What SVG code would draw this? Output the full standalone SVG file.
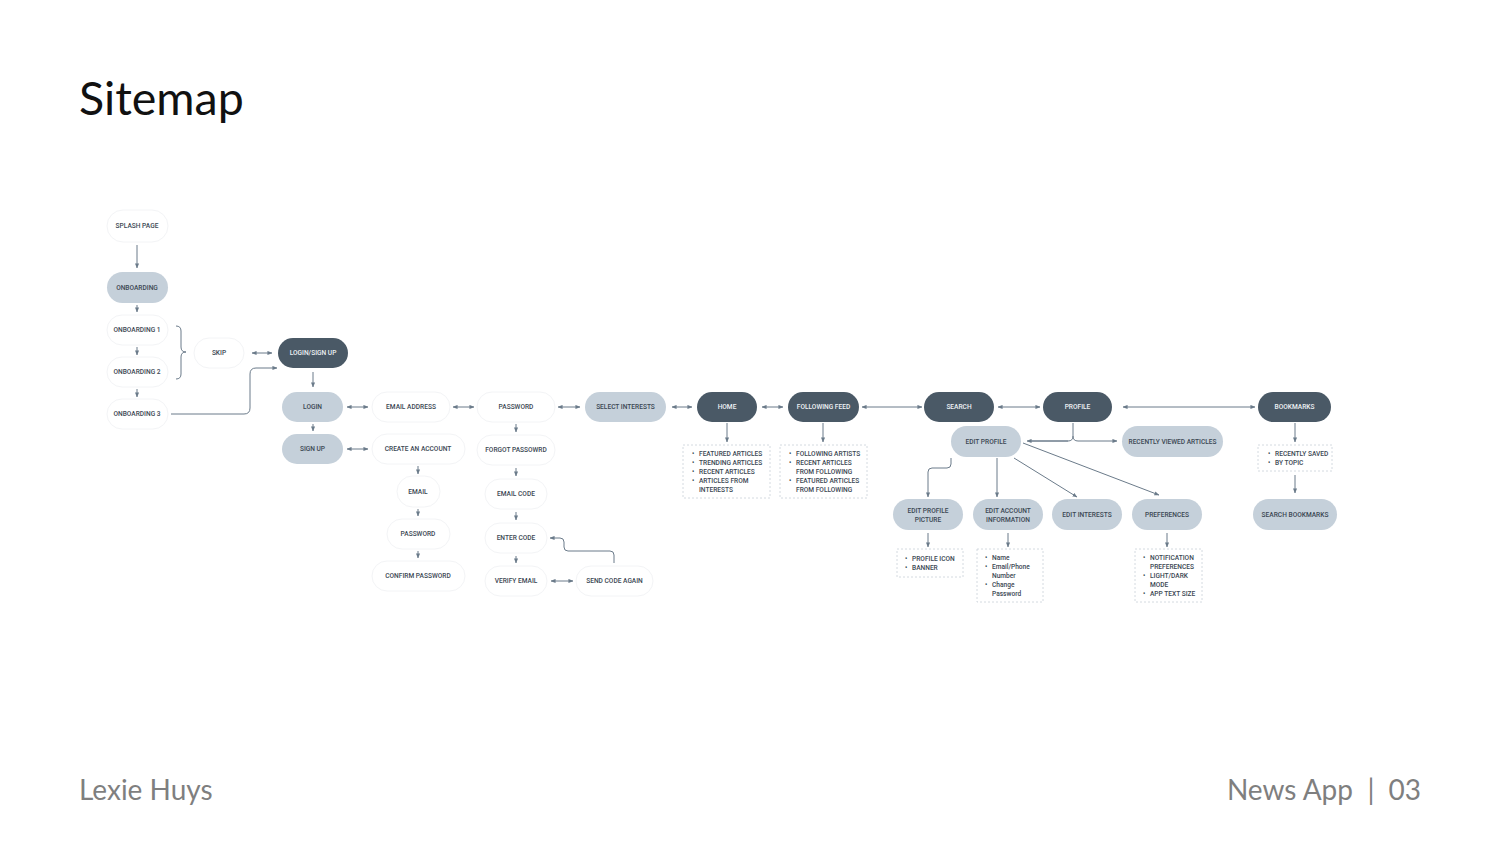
<svg xmlns="http://www.w3.org/2000/svg" width="1500" height="844" viewBox="0 0 1500 844">
<defs>
<marker id="ah" viewBox="0 0 6 6" refX="5.5" refY="3" markerWidth="5" markerHeight="5" orient="auto-start-reverse" markerUnits="userSpaceOnUse">
<path d="M0,0.5 L6,3 L0,5.5 Z" fill="#6b7b8a"/>
</marker>
</defs>
<style>
.w{fill:#ffffff;stroke:#f3f4f6;stroke-width:1}
.l{fill:#c5d0da;stroke:none}
.d{fill:#4a5966;stroke:none}
.t{font-family:Roboto,"Liberation Sans",sans-serif;font-size:6.6px;font-weight:500;fill:#3b4753;text-anchor:middle;dominant-baseline:central}
.td{fill:#eef2f5}
.c{fill:none;stroke:#6b7b8a;stroke-width:1}
.a{marker-end:url(#ah)}
.b{marker-start:url(#ah);marker-end:url(#ah)}
.box{fill:none;stroke:#c9d1d8;stroke-width:0.8;stroke-dasharray:2,2}
.li{font-family:Roboto,"Liberation Sans",sans-serif;font-size:6.6px;font-weight:500;fill:#3b4753}
.title{font-family:Lato,"Liberation Sans",sans-serif;font-size:46.5px;fill:#111111}
.foot{font-family:Lato,"Liberation Sans",sans-serif;font-size:28px;fill:#7f7f7f}
</style>
<rect width="1500" height="844" fill="#ffffff"/>
<text class="title" x="79" y="115">Sitemap</text>
<text class="foot" x="79" y="800">Lexie Huys</text>
<text class="foot" x="1353" y="800" text-anchor="end">News App</text>
<text class="foot" x="1371" y="800" text-anchor="middle">|</text>
<text class="foot" x="1421" y="800" text-anchor="end">03</text>

<g id="connectors">
<line class="c a" x1="137" y1="245" x2="137" y2="268" stroke-width="1.3"/>
<line class="c a" x1="137" y1="305" x2="137" y2="312"/>
<line class="c a" x1="137" y1="347" x2="137" y2="355"/>
<line class="c a" x1="137" y1="389" x2="137" y2="397"/>
<path class="c" d="M176,326 Q181,326 181,331 V347 Q181,352 186,352 Q181,352 181,357 V374 Q181,379 176,379"/>
<line class="c b" x1="252" y1="353" x2="272" y2="353"/>
<path class="c a" d="M171,414 H244 Q250,414 250,408 V374 Q250,368 256,368 H277" stroke-width="1.2"/>
<line class="c a" x1="313" y1="372" x2="313" y2="387"/>
<line class="c a" x1="313" y1="424" x2="313" y2="431"/>
<line class="c b" x1="347" y1="407" x2="368" y2="407"/>
<line class="c b" x1="347" y1="449" x2="368" y2="449"/>
<line class="c b" x1="453" y1="407" x2="474" y2="407"/>
<line class="c a" x1="418" y1="466" x2="418" y2="474"/>
<line class="c a" x1="418" y1="509" x2="418" y2="516"/>
<line class="c a" x1="418" y1="551" x2="418" y2="558"/>
<line class="c a" x1="516" y1="424" x2="516" y2="432"/>
<line class="c a" x1="516" y1="468" x2="516" y2="476"/>
<line class="c a" x1="516" y1="512" x2="516" y2="520"/>
<line class="c a" x1="516" y1="556" x2="516" y2="563"/>
<line class="c b" x1="551" y1="581" x2="573" y2="581"/>
<path class="c a" d="M614,563 V555 Q614,551 610,551 H568 Q564,551 564,547 V542 Q564,538 560,538 H550" stroke-width="1.2"/>
<line class="c b" x1="558" y1="407" x2="580" y2="407"/>
<line class="c b" x1="672" y1="407" x2="692" y2="407"/>
<line class="c b" x1="762" y1="407" x2="783" y2="407"/>
<line class="c b" x1="862" y1="407" x2="922" y2="407"/>
<line class="c b" x1="998" y1="407" x2="1040" y2="407"/>
<line class="c b" x1="1123" y1="407" x2="1255" y2="407"/>
<line class="c a" x1="727" y1="423" x2="727" y2="442"/>
<line class="c a" x1="823" y1="423" x2="823" y2="442"/>
<path class="c" d="M1073,423 V436 Q1073,441 1068,441 H1030"/>
<line class="c a" x1="1068" y1="441" x2="1027" y2="441"/>
<path class="c a" d="M1073,436 Q1073,441 1078,441 H1117"/>
<path class="c a" d="M951,458 V464 Q951,468 947,468 H932 Q928,468 928,472 V497" stroke-width="1.2"/>
<line class="c a" x1="997" y1="458" x2="997" y2="497" stroke-width="1.2"/>
<line class="c a" x1="1014" y1="458" x2="1077" y2="497" stroke-width="1.2"/>
<line class="c a" x1="1023" y1="443" x2="1159" y2="495" stroke-width="1.2"/>
<line class="c a" x1="928" y1="533" x2="928" y2="547" stroke-width="1.2"/>
<line class="c a" x1="1008" y1="533" x2="1008" y2="547" stroke-width="1.2"/>
<line class="c a" x1="1167" y1="533" x2="1167" y2="547" stroke-width="1.2"/>
<line class="c a" x1="1295" y1="423" x2="1295" y2="442" stroke-width="1.2"/>
<line class="c a" x1="1295" y1="475" x2="1295" y2="493" stroke-width="1.2"/>
</g>

<g id="splash"><rect class="w" x="107" y="210" width="61" height="32" rx="16"/><text class="t" x="137" y="226">SPLASH PAGE</text></g>
<g id="onboarding"><rect class="l" x="107" y="272" width="61" height="31" rx="15.5"/><text class="t" x="137" y="287.5">ONBOARDING</text></g>
<g id="onb1"><rect class="w" x="107" y="315" width="61" height="30" rx="15"/><text class="t" x="137" y="330">ONBOARDING 1</text></g>
<g id="onb2"><rect class="w" x="107" y="357" width="61" height="30" rx="15"/><text class="t" x="137" y="372">ONBOARDING 2</text></g>
<g id="onb3"><rect class="w" x="107" y="399" width="61" height="30" rx="15"/><text class="t" x="137" y="414">ONBOARDING 3</text></g>
<g id="skip"><rect class="w" x="194" y="338" width="50" height="30" rx="15"/><text class="t" x="219" y="353">SKIP</text></g>
<g id="loginsignup"><rect class="d" x="278" y="338" width="70" height="30" rx="15"/><text class="t td" x="313" y="353">LOGIN/SIGN UP</text></g>
<g id="login"><rect class="l" x="282" y="392" width="61" height="30" rx="15"/><text class="t" x="312.5" y="407">LOGIN</text></g>
<g id="signup"><rect class="l" x="282" y="434" width="61" height="30" rx="15"/><text class="t" x="312.5" y="449">SIGN UP</text></g>
<g id="emailaddress"><rect class="w" x="372" y="392" width="78" height="30" rx="15"/><text class="t" x="411" y="407">EMAIL ADDRESS</text></g>
<g id="createaccount"><rect class="w" x="372" y="434" width="93" height="30" rx="15"/><text class="t" x="418" y="449">CREATE AN ACCOUNT</text></g>
<g id="email"><rect class="w" x="397" y="476" width="43" height="31" rx="15.5"/><text class="t" x="418" y="491.5">EMAIL</text></g>
<g id="password2"><rect class="w" x="387" y="519" width="63" height="30" rx="15"/><text class="t" x="418" y="534">PASSWORD</text></g>
<g id="confirmpassword"><rect class="w" x="372" y="561" width="93" height="30" rx="15"/><text class="t" x="418" y="576">CONFIRM PASSWORD</text></g>
<g id="password"><rect class="w" x="477" y="392" width="78" height="30" rx="15"/><text class="t" x="516" y="407">PASSWORD</text></g>
<g id="forgot"><rect class="w" x="477" y="435" width="78" height="30" rx="15"/><text class="t" x="516" y="450">FORGOT PASSOWRD</text></g>
<g id="emailcode"><rect class="w" x="485" y="479" width="62" height="30" rx="15"/><text class="t" x="516" y="494">EMAIL CODE</text></g>
<g id="entercode"><rect class="w" x="485" y="523" width="62" height="30" rx="15"/><text class="t" x="516" y="538">ENTER CODE</text></g>
<g id="verifyemail"><rect class="w" x="485" y="566" width="62" height="30" rx="15"/><text class="t" x="516" y="581">VERIFY EMAIL</text></g>
<g id="sendcode"><rect class="w" x="576" y="566" width="77" height="30" rx="15"/><text class="t" x="614.5" y="581">SEND CODE AGAIN</text></g>
<g id="selectinterests"><rect class="l" x="585" y="392" width="81" height="30" rx="15"/><text class="t" x="625.5" y="407">SELECT INTERESTS</text></g>
<g id="home"><rect class="d" x="697" y="392" width="60" height="30" rx="15"/><text class="t td" x="727" y="407">HOME</text></g>
<g id="followingfeed"><rect class="d" x="788" y="392" width="71" height="30" rx="15"/><text class="t td" x="823.5" y="407">FOLLOWING FEED</text></g>
<g id="search"><rect class="d" x="924" y="392" width="70" height="30" rx="15"/><text class="t td" x="959" y="407">SEARCH</text></g>
<g id="profile"><rect class="d" x="1043" y="392" width="69" height="30" rx="15"/><text class="t td" x="1077.5" y="407">PROFILE</text></g>
<g id="bookmarks"><rect class="d" x="1258" y="392" width="73" height="30" rx="15"/><text class="t td" x="1294.5" y="407">BOOKMARKS</text></g>
<g id="editprofile"><rect class="l" x="951" y="426" width="70" height="31" rx="15.5"/><text class="t" x="986" y="441.5">EDIT PROFILE</text></g>
<g id="recentlyviewed"><rect class="l" x="1122" y="426" width="101" height="31" rx="15.5"/><text class="t" x="1172.5" y="441.5">RECENTLY VIEWED ARTICLES</text></g>
<g id="editpicture"><rect class="l" x="893" y="499" width="70" height="31" rx="15.5"/><text class="t" x="928" y="510.5">EDIT PROFILE</text><text class="t" x="928" y="519.5">PICTURE</text></g>
<g id="editaccount"><rect class="l" x="973" y="499" width="70" height="31" rx="15.5"/><text class="t" x="1008" y="510.5">EDIT ACCOUNT</text><text class="t" x="1008" y="519.5">INFORMATION</text></g>
<g id="editinterests"><rect class="l" x="1052" y="499" width="70" height="31" rx="15.5"/><text class="t" x="1087" y="514.5">EDIT INTERESTS</text></g>
<g id="preferences"><rect class="l" x="1132" y="499" width="70" height="31" rx="15.5"/><text class="t" x="1167" y="514.5">PREFERENCES</text></g>
<g id="searchbookmarks"><rect class="l" x="1253" y="499" width="84" height="31" rx="15.5"/><text class="t" x="1295" y="514.5">SEARCH BOOKMARKS</text></g>

<g id="homelist"><rect class="box" x="683" y="445" width="87" height="53"/>
<text class="li"><tspan x="692" y="456">•</tspan><tspan x="699" y="456">FEATURED ARTICLES</tspan><tspan x="692" y="465">•</tspan><tspan x="699" y="465">TRENDING ARTICLES</tspan><tspan x="692" y="474">•</tspan><tspan x="699" y="474">RECENT ARTICLES</tspan><tspan x="692" y="483">•</tspan><tspan x="699" y="483">ARTICLES FROM</tspan><tspan x="699" y="492">INTERESTS</tspan></text></g>
<g id="followinglist"><rect class="box" x="780" y="445" width="87" height="53"/>
<text class="li"><tspan x="789" y="456">•</tspan><tspan x="796" y="456">FOLLOWING ARTISTS</tspan><tspan x="789" y="465">•</tspan><tspan x="796" y="465">RECENT ARTICLES</tspan><tspan x="796" y="474">FROM FOLLOWING</tspan><tspan x="789" y="483">•</tspan><tspan x="796" y="483">FEATURED ARTICLES</tspan><tspan x="796" y="492">FROM FOLLOWING</tspan></text></g>
<g id="picturelist"><rect class="box" x="897" y="549" width="66" height="28"/>
<text class="li"><tspan x="905" y="561">•</tspan><tspan x="912" y="561">PROFILE ICON</tspan><tspan x="905" y="570">•</tspan><tspan x="912" y="570">BANNER</tspan></text></g>
<g id="accountlist"><rect class="box" x="977" y="549" width="66" height="53"/>
<text class="li"><tspan x="985" y="560">•</tspan><tspan x="992" y="560">Name</tspan><tspan x="985" y="569">•</tspan><tspan x="992" y="569">Email/Phone</tspan><tspan x="992" y="578">Number</tspan><tspan x="985" y="587">•</tspan><tspan x="992" y="587">Change</tspan><tspan x="992" y="596">Password</tspan></text></g>
<g id="preflist"><rect class="box" x="1135" y="549" width="67" height="53"/>
<text class="li"><tspan x="1143" y="560">•</tspan><tspan x="1150" y="560">NOTIFICATION</tspan><tspan x="1150" y="569">PREFERENCES</tspan><tspan x="1143" y="578">•</tspan><tspan x="1150" y="578">LIGHT/DARK</tspan><tspan x="1150" y="587">MODE</tspan><tspan x="1143" y="596">•</tspan><tspan x="1150" y="596">APP TEXT SIZE</tspan></text></g>
<g id="bookmarklist"><rect class="box" x="1258" y="445" width="74" height="26"/>
<text class="li"><tspan x="1268" y="456">•</tspan><tspan x="1275" y="456">RECENTLY SAVED</tspan><tspan x="1268" y="465">•</tspan><tspan x="1275" y="465">BY TOPIC</tspan></text></g>
</svg>
